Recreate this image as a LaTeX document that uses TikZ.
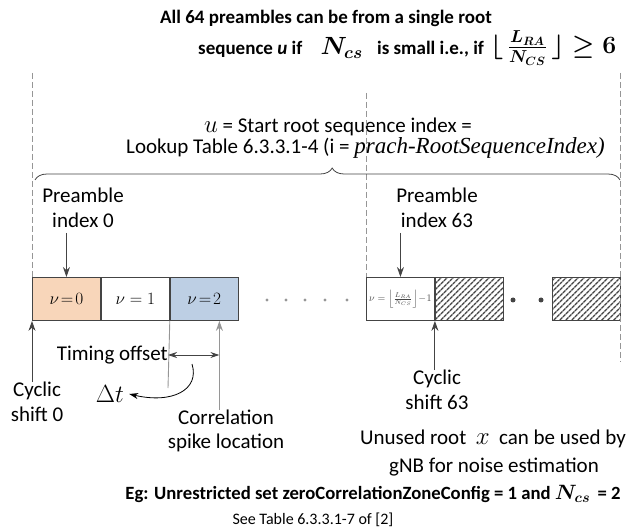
\documentclass[tikz,border=0pt]{standalone}
\usepackage{fontspec}
\setmainfont{Carlito}
\newfontfamily\tms{Liberation Serif}
\usetikzlibrary{arrows.meta,decorations.pathreplacing,patterns.meta,calc}

\definecolor{peach}{RGB}{248,214,186}
\definecolor{paleblue}{RGB}{189,207,228}
\definecolor{edge}{RGB}{68,68,68}
\definecolor{softgray}{RGB}{150,150,150}

\begin{document}
\begin{tikzpicture}[x=1pt,y=-1pt,
  cell/.style={draw=edge, line width=0.9pt, minimum width=68pt, minimum height=43pt,
    inner sep=0pt, anchor=north west, font=\fontsize{19}{19}\selectfont},
  hatch/.style={cell, pattern={Lines[angle=45,distance=4pt,line width=1.5pt]}, pattern color=edge},
  guide/.style={draw=softgray, dash pattern=on 6pt off 3pt, line width=0.8pt},
  pointer/.style={draw=edge, line width=0.9pt, -{Stealth[length=10pt,width=7pt]}},
  lbl/.style={font=\fontsize{21}{24.5}\selectfont, align=center, inner sep=0pt},
  head/.style={font=\fontsize{19}{22}\selectfont\bfseries\boldmath, inner sep=0pt},
  smalldot/.style={fill=softgray, draw=none},
  bigdot/.style={fill=edge, draw=none}
]
\useasboundingbox (0,0) rectangle (641,532);

% heading
\node[head] (t1) at (326,18) {All 64 preambles can be from a single root};
\node[head, anchor=west] (t2) at (198,48)
  {sequence \textit{u} if \hspace{14pt}{\fontsize{23}{23}\selectfont$N_{cs}$}\hspace{10pt} is small i.e., if};
\node[head, anchor=west, font=\fontsize{23}{23}\selectfont\bfseries\boldmath] (t2m) at ([xshift=6pt]t2.east)
  {$\Bigl\lfloor\,\frac{L_{RA}}{N_{CS}}\,\Bigr\rfloor \ge 6$};

% root sequence description
\node[lbl] (root) at (338,127) {{\fontsize{30}{30}\selectfont$u$} = Start root sequence index =};
\node[lbl, anchor=west] (look) at (126,148)
  {Lookup Table 6.3.3.1-4 (i = {\tms\itshape\fontsize{23}{23}\selectfont prach-RootSequenceIndex)}};

% row of preamble slots
\node[cell, fill=peach] (b0) at (32,277) {$\nu\!=\!0$};
\node[cell] (b1) at (b0.north east) {$\nu=1$};
\node[cell, fill=paleblue] (b2) at (b1.north east) {$\nu\!=\!2$};
\node[cell, font=\fontsize{10}{10}\selectfont\color{edge}] (b3) at (366,277)
  {$\nu=\left\lfloor\frac{L_{RA}}{N_{CS}}\right\rfloor\!-\!1$};
\node[hatch] (h1) at (b3.north east) {};
\node[hatch] (h2) at (552,277) {};

% dots between slots
\foreach \px in {267,286,305,325,347} \fill[smalldot] (\px,300) circle (1.6pt);
\foreach \px in {513,541} \fill[bigdot] (\px,300) circle (2.5pt);

% dashed guides
\coordinate (gl) at (32,73);
\coordinate (gm) at (366,93);
\coordinate (gr) at (620,73);
\coordinate (gre) at (620,362);
\draw[guide] (gl) -- (b0.north west);
\draw[guide] (gm) -- (b3.north west);
\draw[guide] (gr) -- (gre);

% brace over the row
\coordinate (brl) at (35,180);
\coordinate (brr) at (620,180);
\draw[edge, line width=0.8pt, decorate, decoration={brace, amplitude=12pt, aspect=0.508}] (brl) -- (brr);

% preamble index labels
\node[lbl] (p0) at (83,208) {Preamble\\index 0};
\node[lbl] (p63) at (437,208) {Preamble\\index 63};
\draw[pointer] (b0.north |- p0.south) ++(0,5) -- (b0.north);
\draw[pointer] (b3.north |- p63.south) ++(0,5) -- (b3.north);

% cyclic shift labels
\node[lbl] (cs0) at (37,402) {Cyclic\\shift 0};
\node[lbl] (cs63) at (437,390) {Cyclic\\shift 63};
\draw[pointer] (cs0.north -| b0.south west) -- (b0.south west);
\draw[pointer] (cs63.north -| b3.south east) -- (b3.south east);

% timing offset and correlation spike
\coordinate (spike) at ($(b2.south west)!0.72!(b2.south east)$);
\coordinate (lowend) at (168,388);
\draw[softgray, line width=0.9pt] (b2.south west) -- (lowend);
\node[lbl, anchor=east] (tim) at (168,355) {Timing offset};
\node[lbl] (corr) at (226,431) {Correlation\\spike location};
\draw[softgray, line width=1.1pt, -{Stealth[length=10pt,width=7pt]}] (corr.north -| spike) -- (spike);
\draw[edge, line width=0.9pt, {Stealth[length=9pt,width=6pt]}-{Stealth[length=9pt,width=6pt]}] (tim.east) -- (tim.east -| spike);
\node[inner sep=0pt, font=\fontsize{23}{23}\selectfont] (dt) at (110,394) {$\Delta t$};
\coordinate (cstart) at (192,364);
\draw[black, line width=0.8pt, -{Stealth[length=9pt,width=6pt]}] (cstart) .. controls (200,390) and (172,404) .. ([xshift=5pt]dt.east);

% notes
\node[lbl] (un1) at (493,439) {Unused root \ {\fontsize{23}{23}\selectfont$x$}\ \ can be used by};
\node[lbl] (un2) at (494,467) {gNB for noise estimation};
\node[head, font=\fontsize{18.7}{22}\selectfont\bfseries\boldmath] (eg) at (373,494) {Eg: Unrestricted set zeroCorrelationZoneConfig = 1 and {\fontsize{21}{21}\selectfont$N_{cs}$}\, = 2};
\node[inner sep=0pt, font=\fontsize{16}{16}\selectfont] (see) at (313,520) {See Table 6.3.3.1-7 of [2]};
\end{tikzpicture}
\end{document}
